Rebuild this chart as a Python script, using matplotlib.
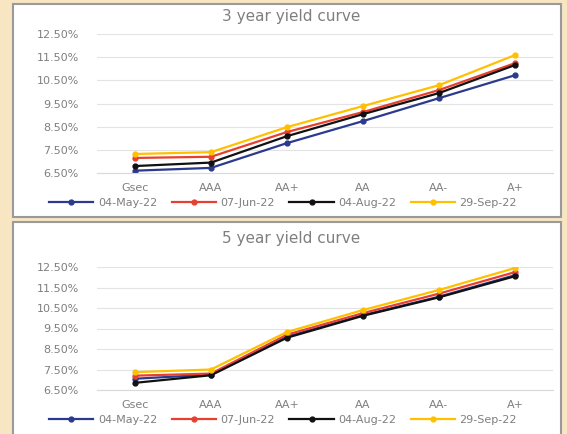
import numpy as np
import matplotlib.pyplot as plt
from matplotlib.patches import Rectangle

# Ratings on the x axis and the four observation dates
ratings = ['Gsec', 'AAA', 'AA+', 'AA', 'AA-', 'A+']
dates = ['04-May-22', '07-Jun-22', '04-Aug-22', '29-Sep-22']

# 3 year yields (%)
y3_may = [6.60, 6.72, 7.79, 8.74, 9.73, 10.72]
y3_jun = [7.15, 7.20, 8.27, 9.13, 10.08, 11.24]
y3_aug = [6.80, 6.95, 8.09, 9.04, 9.95, 11.16]
y3_sep = [7.32, 7.40, 8.48, 9.39, 10.29, 11.59]

# 5 year yields (%)
y5_may = [7.05, 7.25, 9.10, 10.15, 11.05, 12.10]
y5_jun = [7.20, 7.30, 9.20, 10.25, 11.20, 12.25]
y5_aug = [6.85, 7.22, 9.05, 10.12, 11.02, 12.05]
y5_sep = [7.37, 7.50, 9.33, 10.40, 11.38, 12.45]

yticks = [6.5, 7.5, 8.5, 9.5, 10.5, 11.5, 12.5]
colors = ['#2B3A8C', '#E8402E', '#111111', '#FFC000']

W, H = 567, 434
fig = plt.figure(figsize=(W / 100, H / 100), dpi=100)
fig.patch.set_facecolor('#F8E6C3')


def px_box(x0, y0, x1, y1):
    # pixel box (top-left origin) -> figure fraction rect
    return [x0 / W, 1 - y1 / H, (x1 - x0) / W, (y1 - y0) / H]


# white chart panels, kept behind the axes
for (x0, y0, x1, y1) in [(13, 4, 561, 217), (13, 222, 561, 440)]:
    l, b, w, h = px_box(x0, y0, x1, y1)
    fig.patches.append(Rectangle((l, b), w, h, transform=fig.transFigure,
                                 facecolor='white', edgecolor='#9A9A9A',
                                 linewidth=1.5, zorder=-10))


def yield_chart(box, series, title, title_y, legend_y):
    ax = fig.add_axes(px_box(*box))
    ax.set_facecolor('none')
    x = np.arange(len(ratings))
    for vals, c, lab in zip(series, colors, dates):
        ax.plot(x, vals, color=c, linewidth=1.6, marker='o', markersize=3.5,
                label=lab)
    ax.set_xlim(-0.5, len(ratings) - 0.5)
    ax.set_ylim(6.5, 12.5)
    ax.set_yticks(yticks)
    ax.set_yticklabels([f'{v:.2f}%' for v in yticks])
    ax.set_xticks(x)
    ax.set_xticklabels(ratings)
    ax.tick_params(length=0, colors='#7F7F7F', labelsize=8)
    ax.tick_params(axis='y', pad=13)
    ax.tick_params(axis='x', pad=7)
    ax.grid(axis='y', color='#E3E3E3', linewidth=0.8)
    ax.set_axisbelow(True)
    for s in ['top', 'right', 'left']:
        ax.spines[s].set_visible(False)
    ax.spines['bottom'].set_color('#D9D9D9')
    fig.text(291 / W, 1 - title_y / H, title, ha='center', va='center',
             fontsize=11, color='#7F7F7F')
    ax.legend(loc='center', bbox_to_anchor=(283 / W, 1 - legend_y / H),
              bbox_transform=fig.transFigure, ncol=4, frameon=False,
              fontsize=8, labelcolor='#7F7F7F', handlelength=4,
              columnspacing=1.3, handletextpad=0.4)
    return ax


yield_chart((97, 34, 553, 173), [y3_may, y3_jun, y3_aug, y3_sep],
            '3 year yield curve', 17, 203)
yield_chart((97, 267, 553, 390), [y5_may, y5_jun, y5_aug, y5_sep],
            '5 year yield curve', 239, 420)

fig.savefig('out.png', dpi=100, facecolor=fig.get_facecolor())
